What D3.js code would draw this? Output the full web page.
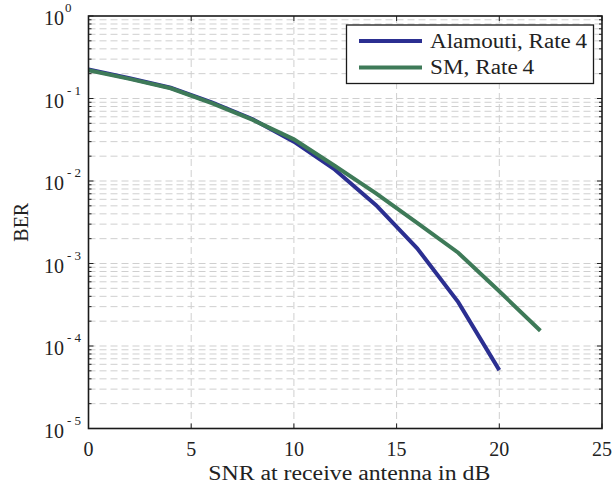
<!DOCTYPE html>
<html><head><meta charset="utf-8">
<script src="https://cdn.jsdelivr.net/npm/d3@7"></script>
<style>body{margin:0;background:#fff;} svg{display:block;}</style>
</head><body>
<svg id="chart" width="614" height="489" font-family="'Liberation Serif','DejaVu Serif',serif"></svg>
<script>
const snrA = [0,2,4,6,8,10,12,14,16,18,20];
const berAlamouti = [0.225,0.176,0.135,0.09,0.056,0.030,0.0137,0.0051,0.00153,0.00034,0.000051];
const snrSM = [0,2,4,6,8,10,12,14,16,18,20,22];
const berSM = [0.22,0.173,0.133,0.088,0.055,0.032,0.0152,0.0071,0.0031,0.00135,0.00046,0.000153];
const seriesNames = ["Alamouti, Rate\u20094","SM, Rate\u20094"];
const seriesColors = ["#2b2f91","#3e7a58"];
const xTicks = [0,5,10,15,20,25];
const yExps = [0,-1,-2,-3,-4,-5];
const xLabel = "SNR at receive antenna in dB";
const yLabel = "BER";

const svg = d3.select("#chart");
const L=88.5,R=602,T=16,B=428.5;
const x = d3.scaleLinear().domain([0,25]).range([L,R]);
const y = d3.scaleLog().domain([1e-5,1]).range([B,T]);
const txtCol = "#222";

const g = svg.append("g");
const minorY = [];
for (let e=-5;e<0;e++) for (let m=1;m<10;m++) minorY.push(m*Math.pow(10,e));
minorY.push(1);
g.selectAll("line.gy").data(minorY.filter(v=>v<1 && v>1e-5)).enter().append("line")
 .attr("x1",L).attr("x2",R).attr("y1",d=>y(d)).attr("y2",d=>y(d))
 .attr("stroke","#cfcfcf").attr("stroke-width",1).attr("stroke-dasharray","7,4");
g.selectAll("line.gx").data(xTicks.filter(v=>v>0&&v<25)).enter().append("line")
 .attr("y1",T).attr("y2",B).attr("x1",d=>x(d)).attr("x2",d=>x(d))
 .attr("stroke","#cfcfcf").attr("stroke-width",1).attr("stroke-dasharray","7,4");

const tk = svg.append("g").attr("stroke","#222").attr("stroke-width",1);
xTicks.forEach(v=>{
  tk.append("line").attr("x1",x(v)).attr("x2",x(v)).attr("y1",B).attr("y2",B-5);
  tk.append("line").attr("x1",x(v)).attr("x2",x(v)).attr("y1",T).attr("y2",T+5);
});
minorY.forEach(v=>{
  const major = Math.abs(Math.log10(v)-Math.round(Math.log10(v)))<1e-9;
  const len = major?5:3;
  tk.append("line").attr("x1",L).attr("x2",L+len).attr("y1",y(v)).attr("y2",y(v));
  tk.append("line").attr("x1",R).attr("x2",R-len).attr("y1",y(v)).attr("y2",y(v));
});

const line = d3.line().x(d=>x(d[0])).y(d=>y(d[1]));
svg.append("path").datum(snrA.map((s,i)=>[s,berAlamouti[i]])).attr("d",line)
 .attr("fill","none").attr("stroke",seriesColors[0]).attr("stroke-width",4);
svg.append("path").datum(snrSM.map((s,i)=>[s,berSM[i]])).attr("d",line)
 .attr("fill","none").attr("stroke",seriesColors[1]).attr("stroke-width",4);

svg.append("rect").attr("x",L).attr("y",T).attr("width",R-L).attr("height",B-T)
 .attr("fill","none").attr("stroke","#1a1a1a").attr("stroke-width",1.6);

svg.selectAll("text.xt").data(xTicks).enter().append("text")
 .attr("x",d=>x(d)).attr("y",456).attr("text-anchor","middle").attr("fill",txtCol)
 .attr("font-size",20).text(d=>d);

yExps.forEach(e=>{
  const yy = y(Math.pow(10,e));
  svg.append("text").attr("x",64).attr("y",yy+9).attr("text-anchor","end").attr("fill",txtCol).attr("font-size",20).text("10");
  svg.append("text").attr("x",e===0?65:67).attr("y",yy-4).attr("font-size",13).attr("fill",txtCol)
    .text(e===0?"0":"- "+(-e));
});

svg.append("text").attr("x",(L+R)/2 + 4).attr("y",480).attr("text-anchor","middle").attr("fill",txtCol)
 .attr("font-size",20).attr("textLength",282).attr("lengthAdjust","spacingAndGlyphs").text(xLabel);
svg.append("text").attr("transform",`translate(28,${(T+B)/2}) rotate(-90)`).attr("fill",txtCol)
 .attr("text-anchor","middle").attr("font-size",20).text(yLabel);

const lg = svg.append("g");
lg.append("rect").attr("x",346.5).attr("y",25).attr("width",247).attr("height",58.5)
 .attr("fill","#fff").attr("stroke","#1a1a1a").attr("stroke-width",1.3);
[41,67.5].forEach((ly,i)=>{
  lg.append("line").attr("x1",359).attr("x2",422).attr("y1",ly).attr("y2",ly)
   .attr("stroke",seriesColors[i]).attr("stroke-width",4);
  const t = lg.append("text").attr("x",430).attr("y",ly+6.5).attr("font-size",20).attr("fill",txtCol).text(seriesNames[i]);
  if (i===0) t.attr("textLength",157).attr("lengthAdjust","spacingAndGlyphs");
  else t.attr("textLength",104).attr("lengthAdjust","spacingAndGlyphs");
});
</script>
</body></html>
